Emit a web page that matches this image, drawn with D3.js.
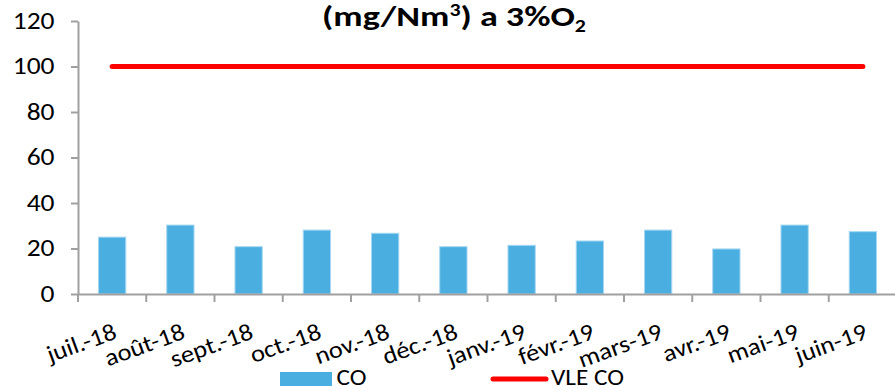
<!DOCTYPE html>
<html><head><meta charset="utf-8">
<script src="https://cdn.jsdelivr.net/npm/d3@7"></script>
<style>
body{margin:0;background:#fff;}
text{font-family:Carlito,Calibri,Lato,sans-serif;fill:#000;}
</style></head>
<body><svg id="c" width="895" height="390"></svg>
<script>
const categories = ["juil.-18","août-18","sept.-18","oct.-18","nov.-18","déc.-18","janv.-19","févr.-19","mars-19","avr.-19","mai-19","juin-19"];
const coValues = [25, 30.3, 20.8, 28.1, 26.7, 20.8, 21.4, 23.3, 28.1, 19.8, 30.3, 27.4];
const vleValues = [100,100,100,100,100,100,100,100,100,100,100,100];
const yTicks = [0,20,40,60,80,100,120];

const svg = d3.select("#c");
const m = {left:78, right:897, top:21, bottom:294};
const x = d3.scaleBand().domain(categories).range([m.left, m.right]).padding(0);
const y = d3.scaleLinear().domain([0,120]).range([m.bottom, m.top]);
const axisColor = "#a0a0a0";
const fontSize = 24;
const sx = 1.1;

// y axis
const ya = svg.append("g").attr("transform",`translate(${m.left},0)`)
  .call(d3.axisLeft(y).tickValues(yTicks).tickSize(7).tickFormat("").tickSizeOuter(0));
ya.select(".domain").attr("stroke",axisColor).attr("stroke-width",2);
ya.selectAll(".tick line").attr("stroke",axisColor).attr("stroke-width",2);
svg.append("g").selectAll("text").data(yTicks).join("text")
  .attr("transform",d=>`translate(54.5,${y(d)+7.8}) scale(${sx},1)`)
  .attr("text-anchor","end").attr("font-size",25)
  .text(d=>d);

// bars
const bw = x.bandwidth()*0.4;
svg.append("g").selectAll("rect").data(coValues).join("rect")
  .attr("x",(d,i)=>x(categories[i])+(x.bandwidth()-bw)/2)
  .attr("y",d=>y(d))
  .attr("width",bw)
  .attr("height",d=>y(0)-y(d))
  .attr("fill","#4baee1")
  .attr("stroke","#a6d8f2").attr("stroke-width",1);

// x axis
const xa = svg.append("g").attr("transform",`translate(0,${m.bottom})`)
  .call(d3.axisBottom(x).tickSize(0).tickFormat(""));
xa.select(".domain").attr("stroke",axisColor).attr("stroke-width",2);
xa.selectAll(".tick").remove();
const bounds = categories.map(c=>x(c));
svg.append("g").selectAll("line").data(bounds).join("line")
  .attr("x1",d=>d).attr("x2",d=>d).attr("y1",m.bottom).attr("y2",m.bottom+8)
  .attr("stroke",axisColor).attr("stroke-width",2);

// x labels
svg.append("g").selectAll("text").data(categories).join("text")
  .attr("transform",d=>`translate(${x(d)+x.bandwidth()/2+6},${m.bottom+44}) rotate(-20) scale(${sx},1)`)
  .attr("text-anchor","end")
  .attr("font-size",fontSize)
  .text(d=>d);

// VLE line
const line = d3.line().x((d,i)=>x(categories[i])+x.bandwidth()/2).y(d=>y(d));
svg.append("path").datum(vleValues).attr("d",line)
  .attr("fill","none").attr("stroke","#ff0000").attr("stroke-width",5).attr("stroke-linecap","round");

// title
const t = svg.append("text").attr("x",454).attr("y",26).attr("text-anchor","middle")
  .attr("font-size",28).attr("font-weight","bold");
t.append("tspan").text("(mg/Nm");
t.append("tspan").text("3").attr("font-size",17).attr("dy",-10);
t.append("tspan").text(") a 3%O").attr("dy",10);
t.append("tspan").text("2").attr("font-size",17).attr("dy",6);
const tw = t.node().getComputedTextLength();
if (tw > 0) {
  const s = 264 / tw;
  t.attr("transform",`translate(454,0) scale(${s},1) translate(-454,0)`);
}

// legend
const lg = svg.append("g");
lg.append("rect").attr("x",280).attr("y",372).attr("width",52).attr("height",14).attr("fill","#4baee1");
lg.append("text").attr("transform",`translate(336.5,385) scale(${sx},1)`).attr("font-size",23).text("CO");
lg.append("line").attr("x1",493).attr("x2",546).attr("y1",379).attr("y2",379)
  .attr("stroke","#ff0000").attr("stroke-width",5).attr("stroke-linecap","round");
lg.append("text").attr("transform",`translate(551,385) scale(${sx},1)`).attr("font-size",23).text("VLE CO");
</script></body></html>
